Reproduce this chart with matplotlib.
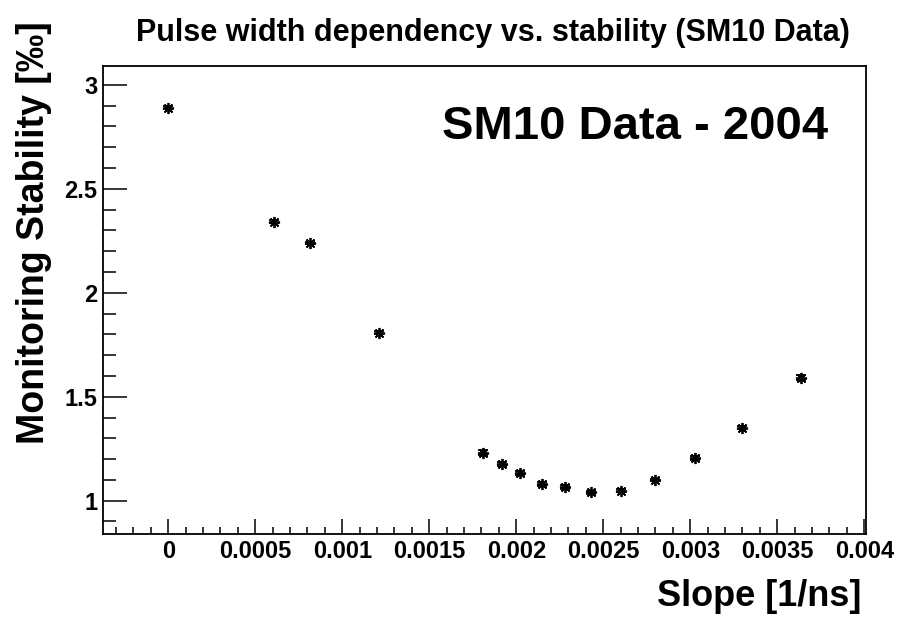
import matplotlib
matplotlib.use("Agg")
import matplotlib.pyplot as plt
from matplotlib.ticker import MultipleLocator

plt.rcParams['font.family'] = ['Liberation Sans', 'DejaVu Sans']
plt.rcParams['font.weight'] = 'bold'

# slope [1/ns] vs monitoring stability [per mille]
slope = [0.0, 0.000609, 0.000816, 0.00121, 0.00181, 0.00192, 0.00202,
         0.00215, 0.00228, 0.00243, 0.00260, 0.00280, 0.00303, 0.00330, 0.003638]
stability = [2.89, 2.341, 2.240, 1.808, 1.231, 1.178, 1.135,
             1.082, 1.067, 1.040, 1.048, 1.100, 1.207, 1.351, 1.592]
err = [0.006, 0.008, 0.006, 0.006, 0.012, 0.010, 0.010,
       0.010, 0.010, 0.008, 0.006, 0.006, 0.010, 0.006, 0.010]

fig = plt.figure(figsize=(9.09, 6.23), dpi=100)
ax = fig.add_axes([0.1133, 0.1429, 0.8394, 0.7511])

ax.errorbar(slope, stability, yerr=err, fmt='none', ecolor='black',
            elinewidth=1.3, capsize=3.5, capthick=1.3)
ax.plot(slope, stability, linestyle='none', marker=(8, 2, 0),
        markersize=8, markeredgewidth=1.3, color='black')

ax.set_xlim(-0.000375, 0.00401)
ax.set_ylim(0.84, 3.09)

ax.xaxis.set_major_locator(MultipleLocator(0.0005))
ax.xaxis.set_minor_locator(MultipleLocator(0.0001))
ax.yaxis.set_major_locator(MultipleLocator(0.5))
ax.yaxis.set_minor_locator(MultipleLocator(0.1))


def xfmt(v, pos):
    if abs(v) < 1e-12:
        return '0'
    return ('%.4f' % v).rstrip('0')


def yfmt(v, pos):
    return ('%g' % v)


ax.xaxis.set_major_formatter(plt.FuncFormatter(xfmt))
ax.yaxis.set_major_formatter(plt.FuncFormatter(yfmt))

ax.tick_params(axis='both', which='both', direction='in', top=False, right=False,
               width=1.1, labelsize=17)
ax.tick_params(axis='y', which='major', length=17, pad=4)
ax.tick_params(axis='y', which='minor', length=9)
ax.tick_params(axis='x', which='major', length=10.5, pad=4)
ax.tick_params(axis='x', which='minor', length=5)
for lab in ax.get_xticklabels() + ax.get_yticklabels():
    lab.set_fontweight('bold')
for s in ax.spines.values():
    s.set_linewidth(1.3)

ax.text(0.95, 0.87, 'SM10 Data - 2004', transform=ax.transAxes,
        ha='right', va='center', fontsize=34, fontweight='bold')

fig.text(0.542, 0.947, 'Pulse width dependency vs. stability (SM10 Data)',
         ha='center', va='center', fontsize=22, fontweight='bold')
fig.text(0.948, 0.042, 'Slope [1/ns]', ha='right', va='center',
         fontsize=26, fontweight='bold')
fig.text(0.037, 0.627, 'Monitoring Stability [‰]', ha='center', va='center',
         rotation=90, fontsize=27, fontweight='bold')

fig.savefig('out.png', dpi=100)
